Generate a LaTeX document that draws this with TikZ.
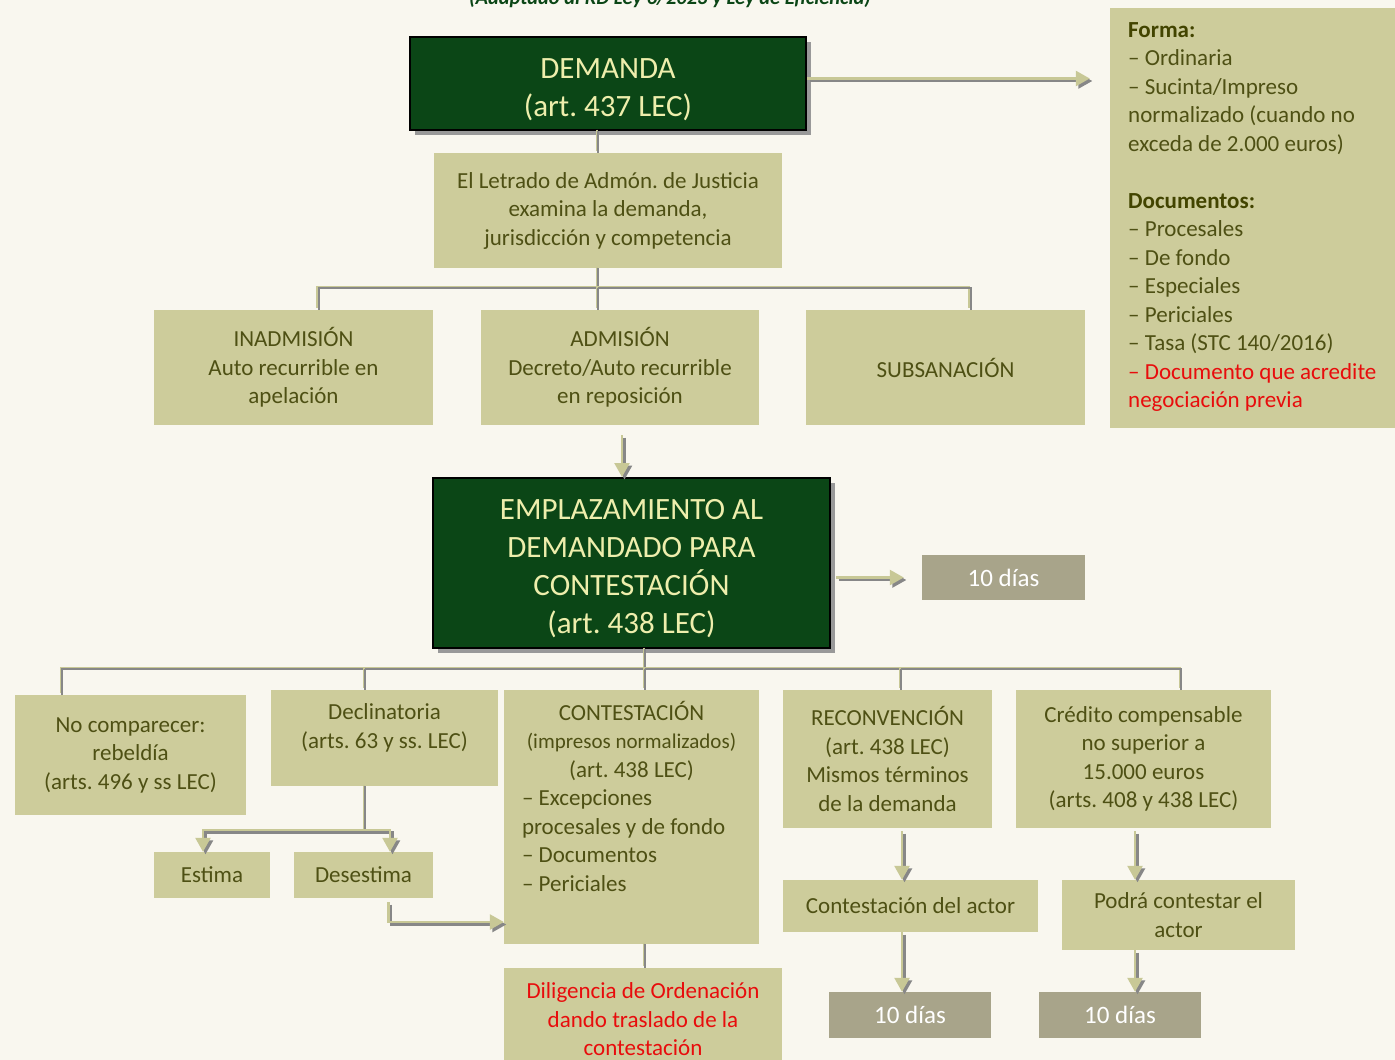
\documentclass[tikz,border=0pt]{standalone}
\usepackage{fontspec}
\setmainfont{Carlito}
\usetikzlibrary{arrows.meta,positioning,shadows}
\frenchspacing
\newcommand{\alto}{\rule{0pt}{32pt}}

\definecolor{fondo}{RGB}{249,247,239}
\definecolor{verdeosc}{RGB}{11,70,22}
\definecolor{amarillo}{RGB}{238,238,172}
\definecolor{oliva}{RGB}{205,204,155}
\definecolor{olivatxt}{RGB}{78,80,20}
\definecolor{olivaneg}{RGB}{66,68,0}
\definecolor{grisbox}{RGB}{168,164,138}
\definecolor{grislin}{RGB}{135,135,135}
\definecolor{olivalin}{RGB}{200,200,150}
\definecolor{rojo}{RGB}{232,12,12}

\tikzset{
	verde/.style={draw=black, line width=2pt, fill=verdeosc, text=amarillo, align=center, inner sep=0pt,
		font=\fontsize{31}{38}\selectfont,
		drop shadow={shadow xshift=5pt, shadow yshift=-5pt, fill=black!40, opacity=1}},
	caja/.style={fill=oliva, text=olivatxt, align=center, inner sep=0pt, font=\fontsize{23}{28.5}\selectfont},
	texto/.style={text=olivatxt, inner sep=0pt, font=\fontsize{23}{28.5}\selectfont},
	dias/.style={fill=grisbox, text=white, inner sep=0pt, font=\fontsize{25}{28.5}\selectfont},
	linea/.style={draw=grislin, line width=2pt, preaction={draw=olivalin, line width=2pt, transform canvas={xshift=-1.5pt, yshift=1.5pt}}},
	flecha/.style={draw=olivalin, line width=2.5pt, -{Triangle[length=14pt,width=15pt]},
		preaction={draw=grislin, line width=2.5pt, -{Triangle[length=14pt,width=15pt]}, transform canvas={xshift=2.5pt, yshift=-2.5pt}}},
}

\begin{document}
\begin{tikzpicture}[x=1pt, y=-1pt]
		%%%%% START %%%%%
		
		\fill[fondo] (0,0) rectangle (1395,1060);
		\useasboundingbox (0,0) rectangle (1395,1060);
		
		\node[anchor=base, text=verdeosc, font=\fontsize{20.5}{24}\selectfont\bfseries\itshape] (titulo) at (670,5) {(Adaptado al RD Ley 6/2023 y Ley de Eficiencia)};
		
		% primera fase
		\node[verde, minimum width=396pt, minimum height=93pt] (demanda) at (608,83.5) {\alto DEMANDA\\(art. 437 LEC)};
		\node[caja, minimum width=290pt, minimum height=420pt] (forma) at (1255,218) {};
		\node[texto, align=left, anchor=north west] (formatxt) at (1128,22) {{\bfseries\color{olivaneg}Forma:}\\– Ordinaria\\– Sucinta/Impreso\\normalizado (cuando no\\exceda de 2.000 euros)\\[28.5pt]{\bfseries\color{olivaneg}Documentos:}\\– Procesales\\– De fondo\\– Especiales\\– Periciales\\– Tasa (STC 140/2016)\\{\color{rojo}– Documento que acredite}\\{\color{rojo}negociación previa}};
		\node[caja, minimum width=348pt, minimum height=115pt] (letrado) at (608,210.5) {El Letrado de Admón. de Justicia\\examina la demanda,\\jurisdicción y competencia};
		\node[caja, minimum width=279pt, minimum height=115pt] (inadm) at (293.5,367.5) {INADMISIÓN\\Auto recurrible en\\apelación};
		\node[caja, minimum width=278pt, minimum height=115pt] (admis) at (620,367.5) {ADMISIÓN\\Decreto/Auto recurrible\\en reposición};
		\node[caja, minimum width=279pt, minimum height=115pt] (subsan) at (945.5,367.5) {SUBSANACIÓN};
		
		% emplazamiento
		\node[verde, minimum width=397pt, minimum height=170pt] (emplaz) at (631.5,563) {\alto EMPLAZAMIENTO AL\\DEMANDADO PARA\\CONTESTACIÓN\\(art. 438 LEC)};
		\node[dias, minimum width=163pt, minimum height=45pt] (dias1) at (1003.5,577.5) {10 días};
		
		% respuestas del demandado
		\node[caja, minimum width=231pt, minimum height=120pt] (nocomp) at (130.5,755) {No comparecer:\\rebeldía\\(arts. 496 y ss LEC)};
		\node[caja, minimum width=227pt, minimum height=96pt] (declin) at (384.5,738) {};
		\node[texto, align=center, below=14pt of declin.north] (declintxt) {Declinatoria\\(arts. 63 y ss. LEC)};
		\node[caja, minimum width=255pt, minimum height=254pt] (contest) at (631.5,817) {};
		\node[texto, align=center, below=11pt of contest.north] (contH) {CONTESTACIÓN\\{\fontsize{21}{26}\selectfont(impresos normalizados)}\\(art. 438 LEC)};
		\node[texto, align=left, anchor=north west] (contL) at ([xshift=18pt,yshift=-9pt]contest.west |- contH.south) {– Excepciones\\procesales y de fondo\\– Documentos\\– Periciales};
		\node[caja, minimum width=209pt, minimum height=138pt] (reconv) at (887.5,759) {RECONVENCIÓN\\(art. 438 LEC)\\Mismos términos\\de la demanda};
		\node[caja, minimum width=255pt, minimum height=138pt] (credito) at (1143.5,759) {Crédito compensable\\no superior a\\15.000 euros\\(arts. 408 y 438 LEC)};
		
		\node[caja, minimum width=116pt, minimum height=46pt] (estima) at (212,875) {Estima};
		\node[caja, minimum width=139pt, minimum height=46pt] (desest) at (363.5,875) {Desestima};
		\node[caja, minimum width=278pt, minimum height=112pt] (dilig) at (643,1024) {};
		\node[texto, text=rojo, align=center, below=15pt of dilig.north] (diligtxt) {Diligencia de Ordenación\\dando traslado de la\\contestación};
		\node[caja, minimum width=255pt, minimum height=52pt] (contactor) at (910.5,906) {Contestación del actor};
		\node[caja, minimum width=233pt, minimum height=70pt] (podra) at (1178.5,915) {Podrá contestar el\\actor};
		\node[dias, minimum width=162pt, minimum height=46pt] (dias2) at (910,1015) {10 días};
		\node[dias, minimum width=162pt, minimum height=46pt] (dias3) at (1120,1015) {10 días};
		
		% conectores
		\draw[flecha] ([yshift=5pt]demanda.east) -- ([xshift=-20pt,yshift=5pt]demanda.east -| forma.west);
		\draw[linea] ([xshift=-10pt]demanda.south) -- ([xshift=-10pt]letrado.north);
		\draw[linea] ([xshift=-10pt]letrado.south) -- ++(0,20) coordinate (bus1) -| ([xshift=25pt]inadm.north);
		\draw[linea] (bus1) -| ([xshift=25pt]subsan.north);
		\draw[linea] (bus1) -- (bus1 |- admis.north);
		\draw[flecha] ([xshift=2pt,yshift=-10pt]admis.south) -- ([xshift=2pt]admis.south |- emplaz.north);
		\draw[flecha] ([xshift=5pt]emplaz.east |- dias1.west) -- ([xshift=-18pt]dias1.west);
		
		\draw[linea] ([xshift=13.5pt]emplaz.south) -- ++(0,20) coordinate (bus2) -| ([xshift=-68.5pt]nocomp.north);
		\draw[linea] (bus2) -| ([xshift=37.5pt]credito.north);
		\draw[linea] (bus2) -- (bus2 |- contest.north);
		\draw[linea] ([xshift=-19.5pt]declin.north |- bus2) -- ([xshift=-19.5pt]declin.north);
		\draw[linea] ([xshift=13.5pt]reconv.north |- bus2) -- ([xshift=13.5pt]reconv.north);
		
		\draw[linea] ([xshift=-19.5pt]declin.south) -- ++(0,44) coordinate (bus3);
		\draw[flecha] (bus3) -| ([xshift=-9pt]estima.north);
		\draw[flecha] (bus3) -| ([xshift=26.5pt]desest.north);
		\draw[flecha] ([xshift=25pt,yshift=-4pt]desest.south) |- ([yshift=-105pt]contest.west);
		\draw[linea] ([xshift=13.5pt]contest.south) -- ([xshift=13.5pt]contest.south |- dilig.north);
		
		\draw[flecha] ([xshift=14.5pt,yshift=-3pt]reconv.south) -- ([xshift=14.5pt]reconv.south |- contactor.north);
		\draw[flecha] ([xshift=-8.5pt]contactor.south) -- ([xshift=-8.5pt]contactor.south |- dias2.north);
		\draw[flecha] ([xshift=-8.5pt,yshift=-3pt]credito.south) -- ([xshift=-8.5pt]credito.south |- podra.north);
		\draw[flecha] ([xshift=-43.5pt]podra.south) -- ([xshift=-43.5pt]podra.south |- dias3.north);
		
		%%%%% END %%%%%
\end{tikzpicture}
\end{document}
